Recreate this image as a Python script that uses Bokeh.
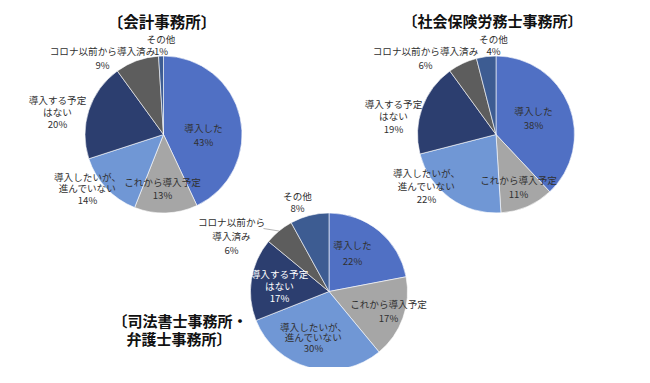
import math
from bokeh.plotting import figure
from bokeh.models import ColumnDataSource, Range1d
from bokeh.core.properties import value
from bokeh.embed import file_html
from bokeh.resources import INLINE

# ---------------- data ----------------
categories = ["導入した", "これから導入予定", "導入したいが、\n進んでいない",
              "導入する予定\nはない", "コロナ以前から導入済み", "その他"]
titles = ["〔会計事務所〕", "〔社会保険労務士事務所〕", "〔司法書士事務所・", "弁護士事務所〕"]
accounting = [43, 13, 14, 20, 9, 1]
labor = [38, 11, 22, 19, 6, 4]
judicial = [22, 17, 30, 17, 6, 8]
series = [accounting, labor, judicial]

# ---------------- styling / layout ----------------
colors = ["#5070C4", "#A6A6A6", "#7097D5", "#2C3E6F", "#5D5D5D", "#3D5C92"]
W, H = 634, 367
IMG_H = 383
FONT = "Noto Sans CJK JP"

def Y(img_y):
    return IMG_H - img_y

centers = [(163, 134), (495.5, 134), (328.5, 291)]
radius = 78.5

# label block centres (image coords), line heights, text colours
label_pos = [
    [(203, 134.5), (162, 188), (87, 188), (57, 111.5), (102, 57.5), (160.5, 44.5)],
    [(533, 117), (518, 186.5), (426, 185.5), (393, 116), (425, 57), (493, 44.5)],
    [(352, 252.5), (388, 310), (313, 337), (279, 285.5), (231, 235.5), (297, 201.5)],
]
label_lh = [
    [1.04, 0.86, 0.83, 0.83, 1.04, 0.79],
    [1.0, 0.94, 0.9, 0.86, 1.0, 0.79],
    [1.08, 1.0, 0.72, 0.83, 0.97, 0.79],
]
label_col = [
    ["#303030"] * 6,
    ["#303030"] * 6,
    ["#303030", "#303030", "#303030", "#FFFFFF", "#303030", "#303030"],
]

p = figure(width=W, height=H, output_backend="svg", toolbar_location=None,
           x_range=Range1d(0, W), y_range=Range1d(IMG_H - H, IMG_H),
           min_border=0)
p.axis.visible = False
p.grid.visible = False
p.outline_line_color = None
p.background_fill_color = "white"

for k, vals in enumerate(series):
    cx, cy = centers[k]
    total = float(sum(vals))
    cum = 0.0
    starts, ends = [], []
    for v in vals:
        a0 = cum / total
        cum += v
        a1 = cum / total
        starts.append(math.pi / 2 - 2 * math.pi * a1)
        ends.append(math.pi / 2 - 2 * math.pi * a0)
    src = ColumnDataSource(dict(x=[cx] * len(vals), y=[Y(cy)] * len(vals),
                                s=starts, e=ends, c=colors))
    p.wedge(x="x", y="y", radius=radius, start_angle="s", end_angle="e",
            fill_color="c", line_color="white", line_width=0.6, source=src)

    names = list(categories)
    if k == 2:
        names[4] = "コロナ以前から\n導入済み"
    texts = [f"{n}\n{v}%" for n, v in zip(names, vals)]
    lsrc = ColumnDataSource(dict(
        x=[pt[0] for pt in label_pos[k]],
        y=[Y(pt[1]) for pt in label_pos[k]],
        t=texts, c=label_col[k], lh=label_lh[k]))
    p.text(x="x", y="y", text="t", text_color="c", text_line_height="lh",
           text_font=value(FONT), text_font_size=value("9.6px"),
           text_align="center", text_baseline="middle", source=lsrc)

# leader line for the judicial pie's "コロナ以前から導入済み"
cx, cy = centers[2]
cum_mid = (sum(judicial[:4]) + judicial[4] / 2) / sum(judicial)
ang = math.pi / 2 - 2 * math.pi * cum_mid
ex, ey = cx + radius * math.cos(ang), Y(cy) + radius * math.sin(ang)
p.line(x=[263, ex], y=[Y(228), ey], line_color="#A0A0A0", line_width=0.8)

# titles
title_style = dict(text_font=value(FONT), text_font_style="bold",
                   text_color="#111111", text_baseline="middle")
p.text(x=[161.5], y=[Y(20)], text=[titles[0]], text_font_size=value("15.5px"),
       text_align="center", **title_style)
p.text(x=[492], y=[Y(20)], text=[titles[1]], text_font_size=value("15px"),
       text_align="center", **title_style)
p.text(x=[112, 126], y=[Y(320), Y(338)], text=titles[2:],
       text_font_size=value("15px"), text_align="left", **title_style)

open("out.html", "w").write(file_html(p, INLINE))
